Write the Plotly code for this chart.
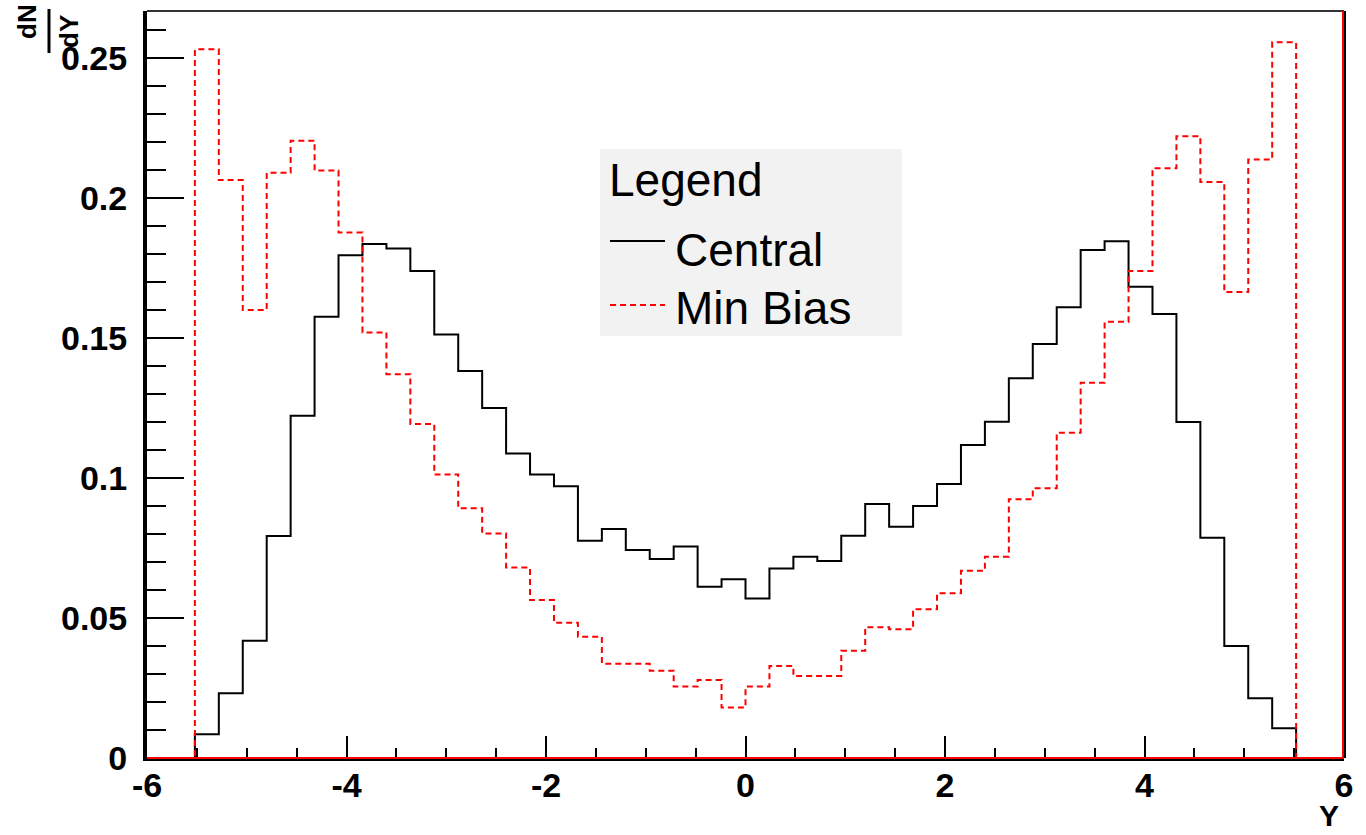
import numpy as np
import plotly.graph_objects as go

# ---------------- data ----------------
n_bins = 50
x_lo, x_hi = -6.0, 6.0

central = [0.0, 0.0,
           0.0085, 0.0231, 0.0419, 0.0793, 0.1222, 0.1576, 0.1796, 0.1836, 0.1820, 0.1739,
           0.1513, 0.1382, 0.1250, 0.1088, 0.1013, 0.0971, 0.0776, 0.0818, 0.0743, 0.0711,
           0.0755, 0.0612, 0.0638, 0.0570, 0.0677, 0.0719, 0.0704, 0.0794, 0.0907, 0.0826,
           0.0900, 0.0979, 0.1118, 0.1201, 0.1356, 0.1479, 0.1610, 0.1814, 0.1846, 0.1683,
           0.1586, 0.1200, 0.0787, 0.0400, 0.0213, 0.0106,
           0.0, 0.0]

min_bias = [0.0, 0.0,
            0.2531, 0.2064, 0.1600, 0.2090, 0.2205, 0.2098, 0.1877, 0.1520, 0.1371, 0.1193,
            0.1013, 0.0892, 0.0802, 0.0680, 0.0564, 0.0483, 0.0433, 0.0337, 0.0337, 0.0312,
            0.0255, 0.0279, 0.0180, 0.0255, 0.0329, 0.0293, 0.0293, 0.0383, 0.0467, 0.0460,
            0.0531, 0.0588, 0.0669, 0.0719, 0.0924, 0.0963, 0.1162, 0.1340, 0.1558, 0.1739,
            0.2106, 0.2221, 0.2057, 0.1664, 0.2138, 0.2556,
            0.0, 0.0]

x_ticks = [-6, -4, -2, 0, 2, 4, 6]
x_tick_labels = ["-6", "-4", "-2", "0", "2", "4", "6"]
y_ticks = [0, 0.05, 0.1, 0.15, 0.2, 0.25]
y_tick_labels = ["0", "0.05", "0.1", "0.15", "0.2", "0.25"]
y_max = 0.2668

series_names = ["Central", "Min Bias"]
legend_title = "Legend"

# ---------------- layout helpers ----------------
W, H = 1366, 835
L, R, T, B = 147, 22, 11, 77
pw, ph = W - L - R, H - T - B


def px(x):
    return (x - L) / pw


def py(y):
    return (H - B - y) / ph


edges = np.linspace(x_lo, x_hi, n_bins + 1)

FONT = "Liberation Sans, Arial, Helvetica, sans-serif"

fig = go.Figure()
fig.add_trace(go.Scatter(
    x=edges, y=central + [central[-1]], mode="lines", line_shape="hv",
    line=dict(color="black", width=2), name=series_names[0], showlegend=False,
    hoverinfo="skip"))
fig.add_trace(go.Scatter(
    x=edges, y=min_bias + [min_bias[-1]], mode="lines", line_shape="hv",
    line=dict(color="#ff0000", width=2, dash="6px,4px"), name=series_names[1],
    showlegend=False, hoverinfo="skip"))

tickfont = dict(family=FONT, size=34, color="black", weight="bold")

fig.update_layout(
    width=W, height=H,
    margin=dict(l=L, r=R, t=T, b=B, pad=0),
    paper_bgcolor="white", plot_bgcolor="white",
    showlegend=False,
    xaxis=dict(
        range=[x_lo, x_hi], tickvals=x_ticks, ticktext=x_tick_labels,
        ticks="inside", ticklen=22, tickwidth=2, tickcolor="black",
        minor=dict(dtick=0.5, tick0=-6, ticks="inside", ticklen=10, tickwidth=2,
                   tickcolor="black", showgrid=False),
        showline=True, linewidth=3, linecolor="black",
        showgrid=False, zeroline=False, tickfont=tickfont,
        ticklabelstandoff=-5,
    ),
    yaxis=dict(
        range=[0, y_max], tickvals=y_ticks, ticktext=y_tick_labels,
        ticks="inside", ticklen=37, tickwidth=2, tickcolor="black",
        minor=dict(dtick=0.01, tick0=0, ticks="inside", ticklen=19, tickwidth=2,
                   tickcolor="black", showgrid=False),
        showline=True, linewidth=4, linecolor="black",
        showgrid=False, zeroline=False, tickfont=tickfont,
        ticklabelstandoff=9,
    ),
)

shapes = [
    # top frame
    dict(type="line", xref="paper", yref="paper", x0=0, x1=1, y0=1, y1=1,
         line=dict(color="#333333", width=2), layer="above"),
    # right frame
    dict(type="line", xref="paper", yref="paper", x0=1 + 1 / pw, x1=1 + 1 / pw, y0=0, y1=1,
         line=dict(color="black", width=2), layer="above"),
    # red right edge
    dict(type="line", xref="paper", yref="paper", x0=1 - 1 / pw, x1=1 - 1 / pw, y0=0, y1=1,
         line=dict(color="#ff0000", width=2), layer="above"),
    # red bottom line
    dict(type="line", xref="paper", yref="paper", x0=0, x1=1, y0=0, y1=0,
         line=dict(color="#ff0000", width=2), layer="above"),
    # legend box
    dict(type="rect", xref="paper", yref="paper", x0=px(600), x1=px(902), y0=py(336), y1=py(149),
         fillcolor="#f2f2f2", line=dict(width=0), layer="above"),
    # legend samples
    dict(type="line", xref="paper", yref="paper", x0=px(610), x1=px(665), y0=py(241), y1=py(241),
         line=dict(color="black", width=2), layer="above"),
    dict(type="line", xref="paper", yref="paper", x0=px(610), x1=px(665), y0=py(305), y1=py(305),
         line=dict(color="#ff0000", width=2, dash="6px,4px"), layer="above"),
    # fraction bar of dN/dY
    dict(type="line", xref="paper", yref="paper", x0=px(49), x1=px(49), y0=py(53), y1=py(9),
         line=dict(color="black", width=3), layer="above"),
]
fig.update_layout(shapes=shapes)

legfont = dict(family=FONT, size=46, color="black")
annotations = [
    dict(text=legend_title, x=px(607), y=py(180), xref="paper", yref="paper",
         xanchor="left", yanchor="middle", showarrow=False, font=legfont),
    dict(text=series_names[0], x=px(673), y=py(250), xref="paper", yref="paper",
         xanchor="left", yanchor="middle", showarrow=False, font=legfont),
    dict(text=series_names[1], x=px(673), y=py(308), xref="paper", yref="paper",
         xanchor="left", yanchor="middle", showarrow=False, font=legfont),
    # x axis title
    dict(text="Y", x=px(1329), y=py(815), xref="paper", yref="paper",
         xanchor="center", yanchor="middle", showarrow=False,
         font=dict(family=FONT, size=30, color="black", weight="bold")),
    # y axis title dN/dY (rotated fraction)
    dict(text="dN", x=px(27), y=py(22), xref="paper", yref="paper", textangle=-90,
         xanchor="center", yanchor="middle", showarrow=False,
         font=dict(family=FONT, size=26, color="black", weight="bold")),
    dict(text="dY", x=px(69), y=py(32), xref="paper", yref="paper", textangle=-90,
         xanchor="center", yanchor="middle", showarrow=False,
         font=dict(family=FONT, size=26, color="black", weight="bold")),
]
fig.update_layout(annotations=annotations)

fig.write_html("out.html")
